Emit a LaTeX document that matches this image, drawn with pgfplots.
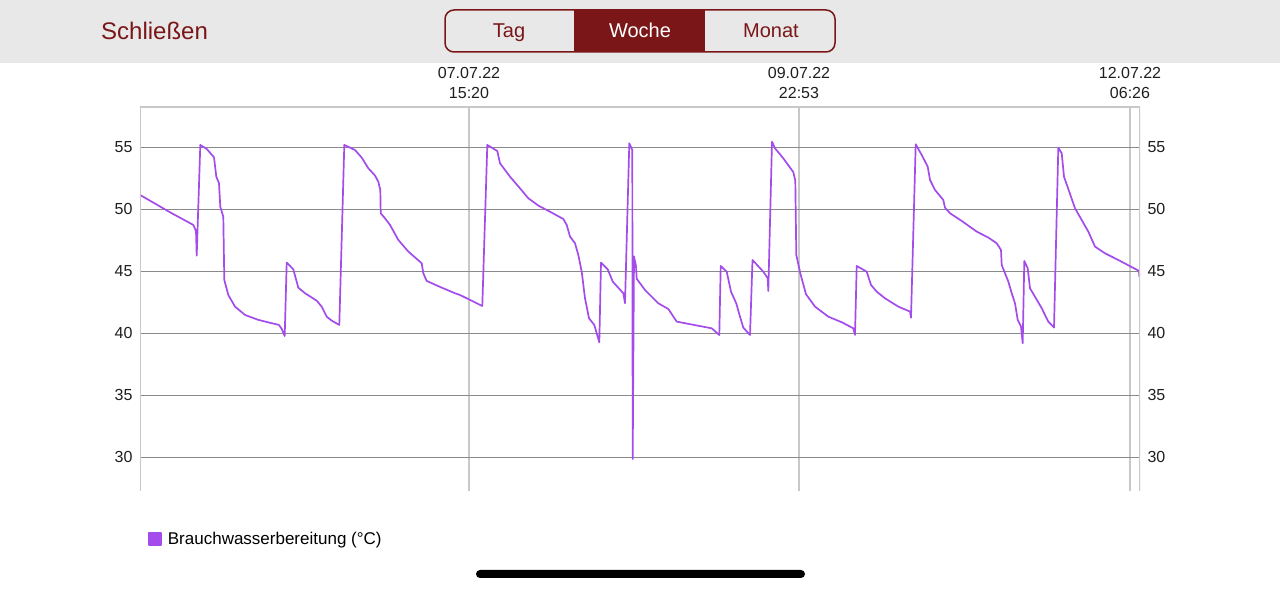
\documentclass[border=0pt]{standalone}
\usepackage{fontspec}
\setmainfont{Liberation Sans}
\usepackage{pgfplots}
\pgfplotsset{compat=1.18}

\definecolor{pcol}{RGB}{163,76,235}
\definecolor{hdr}{RGB}{232,232,232}
\definecolor{wine}{RGB}{122,22,24}
\definecolor{hgrid}{RGB}{138,138,138}
\definecolor{vgrid}{RGB}{200,200,200}

% x: time in steps of about 10 min since the start of the week, y: temperature in degC
\pgfplotstableread{
x y
0 51.16
31.7 49.68
35 49.54
53.3 48.74
56 48.25
56.7 46.26
60.3 55.19
66.7 54.87
74 54.19
76.3 52.63
79 52.1
80.3 50.2
83.3 49.4
84.3 44.3
88.3 43.09
95 42.15
105 41.48
118.3 41.08
139 40.67
141.7 40.35
144.7 39.78
146.7 45.70
153.3 45.16
158.3 43.68
165 43.23
176.7 42.63
181.7 42.15
186.7 41.34
191.7 41.02
199.3 40.67
204.3 55.19
215 54.78
221.7 54.17
228.3 53.31
235 52.72
238.3 52.23
240.3 51.56
240.7 49.68
245 49.27
250 48.74
258.3 47.53
268.3 46.59
281.7 45.65
283.3 44.84
286.7 44.22
301.7 43.68
315 43.23
320 43.09
342.3 42.2
347.3 55.19
357.3 54.70
360 53.71
370 52.63
380 51.69
388.3 50.89
398.3 50.30
411.7 49.73
423.3 49.22
426.7 48.74
430 47.8
435 47.26
438.3 46.32
441.7 44.97
445 42.82
449 41.21
454.3 40.67
456.7 40.0
459.3 39.27
461 45.7
467.7 45.16
472.7 44.17
483.3 43.23
485 42.42
489.3 55.32
492.3 54.78
492.7 29.86
494 46.2
496 45.4
496.7 44.4
505 43.49
518.3 42.42
528.3 41.96
536.7 40.94
571.7 40.4
579.3 39.86
580.7 45.43
586.7 44.97
591 43.36
596.3 42.4
600 41.34
603.3 40.46
610 39.86
612.5 45.91
623.3 44.97
627.7 44.44
628.3 43.41
632 55.45
635 54.92
643.3 54.11
653.3 53.0
655.3 52.3
656.3 46.31
660.5 44.77
666 43.15
675 42.15
688.3 41.34
701.7 40.89
713.3 40.4
715 39.87
716.7 45.43
726.7 44.97
731 43.9
736.7 43.36
745 42.82
758.3 42.15
770 41.75
771 41.26
775.7 55.24
781.7 54.38
787.7 53.44
790 52.37
795 51.56
803.3 50.75
805 50.13
810 49.68
821.7 49.06
836.7 48.2
848.3 47.72
856.7 47.26
861 46.72
861.7 45.51
865 44.84
868.3 44.17
871.7 43.23
875 42.42
877.7 41.08
881 40.54
882.7 39.19
884.3 45.83
887.7 45.24
890 43.63
901.7 42.02
908.3 40.94
914 40.46
918.3 54.97
921.7 54.52
924 52.63
935 50.08
948.3 48.2
955 46.99
965 46.45
978.3 45.91
999 45.03
999.3 44.57
}\brauchwasser

\pgfplotsset{
  chartbase/.style={
    at={(140pt,100pt)}, anchor=south west,
    scale only axis, width=1000pt, height=384pt,
    xmin=0, xmax=1000, ymin=27.28, ymax=58.25,
    ytick={30,35,40,45,50,55},
    major tick length=0pt,
    axis line style={draw=none},
    tick label style={font=\fontsize{16}{20}\selectfont, text=black!88},
    /pgf/number format/assume math mode=true,
  },
}

\begin{document}
\begin{tikzpicture}[x=1pt,y=1pt]
\useasboundingbox (0,0) rectangle (1280,591);
\fill[white] (0,0) rectangle (1280,591);

% header bar
\fill[hdr] (0,528) rectangle (1280,591);
\node[anchor=base west, inner sep=0pt, text=wine, font=\fontsize{24}{28}\selectfont] at (101,551.5) {Schließen};
\begin{scope}
  \clip[rounded corners=9pt] (445,539) rectangle (835,581);
  \fill[wine] (574,539) rectangle (705,581);
\end{scope}
\draw[wine, line width=1.5pt, rounded corners=9pt] (445,539) rectangle (835,581);
\node[anchor=base, inner sep=0pt, text=wine, font=\fontsize{20}{24}\selectfont] at (509,553) {Tag};
\node[anchor=base, inner sep=0pt, text=white, font=\fontsize{20}{24}\selectfont] at (640,553) {Woche};
\node[anchor=base, inner sep=0pt, text=wine, font=\fontsize{20}{24}\selectfont] at (771,553) {Monat};

\begin{axis}[chartbase,
  xtick={329,659,990},
  xticklabels={{07.07.22\\15:20},{09.07.22\\22:53},{12.07.22\\06:26}},
  xticklabel pos=upper,
  xticklabel style={align=center, yshift=5pt},
  yticklabel style={xshift=-4pt},
  xmajorgrids, ymajorgrids,
  x grid style={vgrid, line width=1.5pt},
  y grid style={hgrid, line width=1.1pt},
  legend style={at={(rel axis cs:0.008,-0.125)}, anchor=west, draw=none, fill=none,
    inner sep=0pt, font=\fontsize{17}{20}\selectfont,
    /tikz/every odd column/.append style={column sep=4pt}},
  legend image code/.code={\fill[pcol] (0pt,-6pt) rectangle (12pt,6pt);},
]
\addplot[pcol, line width=1.7pt, line join=round] table {\brauchwasser};
\addlegendentry{Brauchwasserbereitung (°C)}
\draw[vgrid, line width=1.5pt] (rel axis cs:0,0) -- (rel axis cs:0,1) -- (rel axis cs:1,1);
\draw[vgrid, line width=2.5pt] (rel axis cs:1,1) -- (rel axis cs:1,0);
\end{axis}

\begin{axis}[chartbase,
  axis x line=none, axis y line*=right,
  xtick=\empty,
  yticklabel style={xshift=4pt},
]
\end{axis}

% home indicator
\fill[black, rounded corners=4pt] (476,13) rectangle (805,21);
\end{tikzpicture}
\end{document}
